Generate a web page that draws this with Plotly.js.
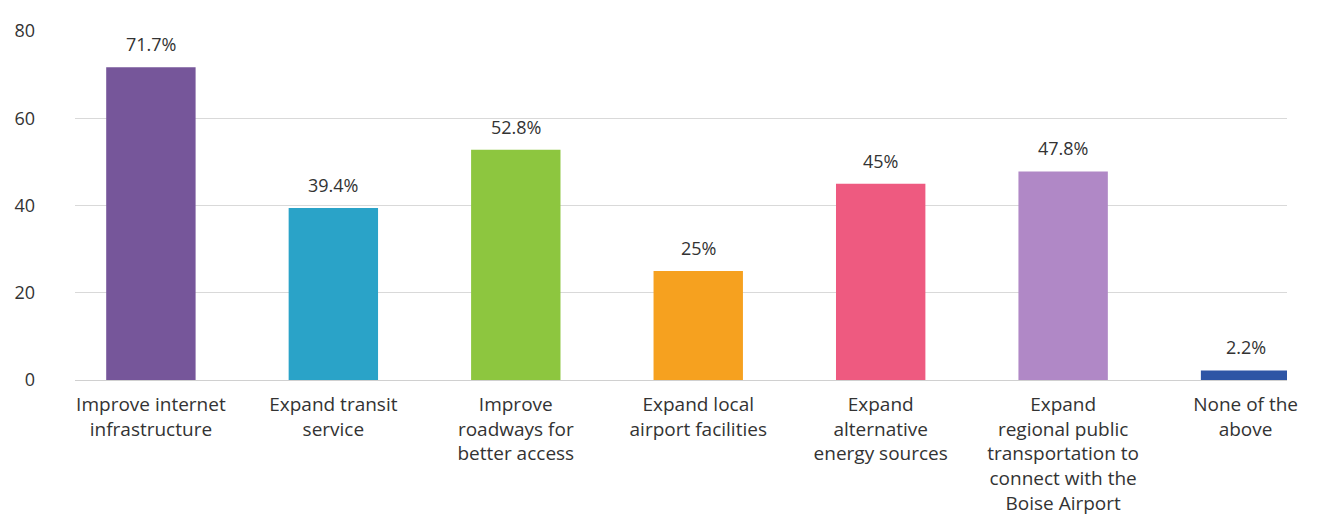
<!DOCTYPE html>
<html>
<head>
<meta charset="utf-8">
<script src="https://cdn.plot.ly/plotly-3.0.1.min.js"></script>
<style>html,body{margin:0;padding:0;background:#fff;}#chart{width:1334px;height:521px;}</style>
</head>
<body>
<div id="chart"></div>
<script>
const categories = [
  "Improve internet<br>infrastructure",
  "Expand transit<br>service",
  "Improve<br>roadways for<br>better access",
  "Expand local<br>airport facilities",
  "Expand<br>alternative<br>energy sources",
  "Expand<br>regional public<br>transportation to<br>connect with the<br>Boise Airport",
  "None of the<br>above"
];
const values = [71.7, 39.4, 52.8, 25, 45, 47.8, 2.2];
const labels = ["71.7%", "39.4%", "52.8%", "25%", "45%", "47.8%", "2.2%"];
const colors = ["#76569A", "#2AA3C8", "#8DC63F", "#F6A11F", "#EE5A80", "#B088C6", "#2E55A5"];
const yTicks = [0, 20, 40, 60, 80];

const idx = categories.map((c, i) => i);
const fontFam = "'Open Sans', Lato, sans-serif";

const trace = {
  type: "bar",
  x: idx,
  y: values,
  marker: {color: colors},
  width: 0.49,
  hoverinfo: "none"
};

const annotations = idx.map(i => ({
  x: i, y: values[i], xref: "x", yref: "y",
  text: labels[i], showarrow: false,
  yanchor: "bottom", yshift: 9,
  font: {family: fontFam, size: 18, color: "#333"}
}));

const layout = {
  width: 1334, height: 521,
  margin: {l: 75, r: 47, t: 31, b: 141},
  paper_bgcolor: "#fff", plot_bgcolor: "#fff",
  showlegend: false,
  bargap: 0.5,
  font: {family: fontFam, color: "#333"},
  xaxis: {
    range: [-0.416, 6.227],
    tickmode: "array", tickvals: idx, ticktext: categories,
    showgrid: false, zeroline: false, showline: false,
    ticks: "", ticklabelstandoff: 11,
    tickfont: {family: fontFam, size: 19, color: "#333"}
  },
  yaxis: {
    range: [0, 80],
    tickmode: "array", tickvals: yTicks, ticktext: yTicks.map(String),
    showgrid: true, gridcolor: "#d9d9d9", gridwidth: 1,
    zeroline: true, zerolinecolor: "#d0d0d0",
    ticks: "", ticklabelstandoff: 39,
    tickfont: {family: fontFam, size: 18, color: "#333"}
  },
  annotations: annotations
};

Plotly.newPlot("chart", [trace], layout, {displayModeBar: false, staticPlot: true});
</script>
</body>
</html>
